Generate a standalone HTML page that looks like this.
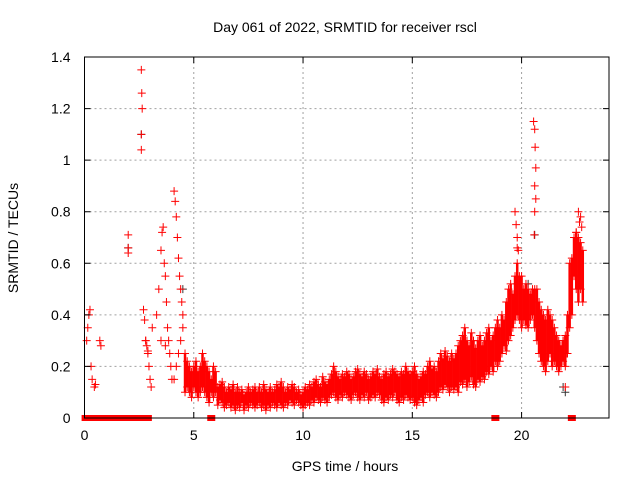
<!DOCTYPE html>
<html><head><meta charset="utf-8"><style>
body{margin:0;background:#fff}
svg{display:block;font-family:"Liberation Sans",sans-serif}
</style></head><body>
<svg id="chart" width="640" height="480" viewBox="0 0 640 480">
<rect width="640" height="480" fill="#fff"/>
<text x="345" y="32" font-size="14" text-anchor="middle">Day 061 of 2022, SRMTID for receiver rscl</text>
<text x="345" y="471" font-size="14" text-anchor="middle">GPS time / hours</text>
<text transform="translate(18,238) rotate(-90)" font-size="14" text-anchor="middle">SRMTID / TECUs</text>
<g id="grid"></g>
<g id="marks"></g>
<g id="axes"></g>
</svg>
<script>
const xTicks=[0,5,10,15,20];
const yTicks=[0,0.2,0.4,0.6,0.8,1,1.2,1.4];
const yTickLabels=["0","0.2","0.4","0.6","0.8","1","1.2","1.4"];
const bandT=[4.6,4.7,4.8,4.9,5.0,5.1,5.2,5.3,5.4,5.5,5.6,5.7,5.8,5.9,6.0,
6.1,6.2,6.3,6.4,6.5,6.6,6.7,6.8,6.9,7.0,7.1,7.2,7.3,7.4,7.5,7.6,7.7,7.8,7.9,8.0,8.1,8.2,8.3,8.4,8.5,8.6,8.7,8.8,8.9,9.0,9.1,9.2,9.3,9.4,9.5,9.6,9.7,9.8,9.9,
10.0,10.1,10.2,10.3,10.4,10.5,10.6,10.7,10.8,10.9,11.0,11.1,11.2,11.3,11.4,11.5,11.6,11.7,11.8,11.9,12.0,12.1,12.2,12.3,12.4,12.5,12.6,12.7,12.8,12.9,13.0,13.1,13.2,13.3,13.4,13.5,13.6,13.7,13.8,13.9,14.0,14.1,14.2,14.3,14.4,14.5,14.6,14.7,14.8,14.9,
15.0,15.1,15.2,15.3,15.4,15.5,15.6,15.7,15.8,15.9,16.0,16.1,16.2,16.3,16.4,16.5,16.6,16.7,16.8,16.9,
17.0,17.1,17.2,17.3,17.4,17.5,17.6,17.7,17.8,17.9,18.0,18.1,18.2,18.3,18.4,18.5,18.6,18.7,18.8,18.9,
19.0,19.1,19.2,19.3,19.4,19.5,19.6,19.7,19.8,19.9,20.0,20.1,20.2,20.3,20.4,20.5,
20.6,20.7,20.8,20.9,21.0,21.1,21.2,21.3,21.4,21.5,21.6,21.7,21.8,21.9,22.0,22.1,22.2,22.3,22.4,22.5,22.6,22.7,22.8];
const bandHi=[.25,.22,.2,.18,.2,.22,.18,.2,.25,.22,.2,.18,.15,.2,.18,
.12,.13,.14,.12,.1,.12,.11,.13,.1,.12,.1,.11,.09,.1,.12,.1,.11,.12,.1,.12,.1,.13,.11,.1,.12,.1,.11,.13,.12,.14,.12,.1,.12,.11,.13,.12,.1,.11,.09,
.1,.12,.11,.13,.12,.14,.15,.13,.12,.16,.14,.13,.15,.17,.2,.18,.16,.15,.17,.16,.18,.17,.15,.16,.18,.19,.17,.16,.18,.17,.15,.16,.18,.17,.19,.16,.15,.17,.18,.16,.17,.19,.18,.17,.16,.18,.17,.2,.18,.17,
.18,.2,.17,.15,.16,.18,.17,.2,.22,.19,.2,.18,.22,.25,.23,.26,.24,.22,.25,.23,
.25,.28,.3,.32,.35,.3,.28,.33,.3,.27,.3,.32,.28,.3,.33,.35,.3,.32,.35,.38,
.35,.4,.38,.45,.5,.52,.48,.55,.6,.55,.55,.5,.52,.5,.48,.5,
.5,.5,.45,.42,.4,.38,.42,.4,.38,.35,.32,.3,.28,.3,.32,.4,.6,.62,.7,.72,.7,.68,.65];
const bandLo=[.1,.12,.1,.08,.12,.1,.08,.1,.12,.1,.08,.06,.1,.08,.1,
.05,.07,.06,.04,.05,.06,.04,.05,.03,.05,.04,.06,.03,.05,.04,.06,.05,.04,.05,.06,.04,.05,.03,.05,.04,.06,.05,.04,.06,.05,.04,.06,.05,.07,.06,.05,.07,.06,.05,
.04,.05,.06,.05,.07,.06,.08,.07,.06,.08,.07,.06,.08,.09,.1,.08,.07,.09,.08,.1,.09,.08,.07,.09,.1,.08,.07,.09,.08,.1,.07,.08,.09,.08,.1,.09,.07,.06,.08,.07,.09,.08,.1,.07,.06,.08,.07,.09,.08,.07,
.08,.06,.05,.07,.08,.06,.09,.1,.08,.1,.09,.08,.1,.12,.11,.13,.12,.1,.12,.11,
.12,.1,.14,.13,.15,.12,.14,.16,.13,.12,.15,.14,.16,.15,.18,.17,.2,.18,.22,.2,
.22,.25,.28,.26,.3,.32,.35,.38,.4,.38,.35,.38,.36,.35,.38,.4,
.35,.3,.25,.22,.2,.18,.22,.25,.2,.22,.2,.18,.2,.22,.2,.25,.35,.4,.55,.5,.45,.5,.45];
const ptT=[0.1,0.15,0.2,0.25,0.3,0.35,0.45,0.5,0.7,0.75,2.0,2.0,2.0,2.6,2.62,2.64,2.6,2.6,
2.7,2.75,2.8,2.85,2.9,2.95,3.0,3.05,3.1,2.8,2.9,
3.3,3.4,3.5,3.55,3.6,3.65,3.7,3.75,3.8,3.85,3.9,3.95,4.0,3.5,3.7,
4.1,4.15,4.2,4.25,4.3,4.35,4.4,4.45,4.5,4.5,4.4,4.3,4.2,4.1,
19.7,19.75,19.8,19.85,19.8,20.55,20.6,20.62,20.65,20.6,20.65,20.6,20.58,21.9,22.0,22.05,22.5,22.6,22.7,22.65,22.75];
const ptV=[0.3,0.35,0.4,0.42,0.2,0.15,0.12,0.13,0.3,0.28,0.71,0.66,0.64,1.35,1.26,1.2,1.1,1.04,
0.42,0.38,0.3,0.28,0.25,0.2,0.15,0.12,0.35,0.3,0.26,
0.4,0.5,0.65,0.72,0.74,0.6,0.55,0.45,0.35,0.3,0.25,0.2,0.15,0.3,0.28,
0.88,0.84,0.78,0.7,0.62,0.55,0.5,0.45,0.4,0.35,0.3,0.25,0.2,0.15,
0.8,0.75,0.7,0.65,0.66,1.15,1.12,1.05,0.97,0.9,0.85,0.8,0.71,0.3,0.12,0.25,0.72,0.8,0.78,0.76,0.74];
const zeroT=[0.05,0.3,0.4,0.5,0.6,0.8,0.9,1.0,1.2,1.3,1.5,1.6,1.7,1.8,1.9,2.0,2.1,2.2,2.3,2.4,2.5,2.6,2.9,5.8,18.8,22.3];
const blackT=[2.0,2.6,4.5,19.8,20.6,22.0,21.9,20.3];
const blackV=[0.66,1.1,0.5,0.52,0.71,0.1,0.12,0.52];

const NS="http://www.w3.org/2000/svg";
const L=84.5,R=609,T=57,B=418;
const sx=t=>L+t*(R-L)/24;
const sy=v=>B-v*(B-T)/1.4;
function mk(tag,a,parent){const e=document.createElementNS(NS,tag);for(const k in a)e.setAttribute(k,a[k]);parent.appendChild(e);return e;}
const grid=document.getElementById('grid'),marks=document.getElementById('marks'),axes=document.getElementById('axes');
xTicks.forEach(t=>{if(t>0){const g=mk('line',{x1:sx(t),x2:sx(t),y1:T,y2:B,stroke:'#a0a0a0','stroke-dasharray':'2,3'},grid);

}
const tk=mk('path',{d:`M${sx(t)},${B}v-6M${sx(t)},${T}v6`,stroke:'#000'},axes);


const lb=mk('text',{x:sx(t),y:B+22,'font-size':14,'text-anchor':'middle'},axes);lb.textContent=t;

});
yTicks.forEach((v,i)=>{if(v>0&&v<1.4){const g=mk('line',{x1:L,x2:R,y1:sy(v),y2:sy(v),stroke:'#a0a0a0','stroke-dasharray':'2,3'},grid);

}
const tk=mk('path',{d:`M${L},${sy(v)}h6M${R},${sy(v)}h-6`,stroke:'#000'},axes);


const lb=mk('text',{x:L-14,y:sy(v)+5,'font-size':14,'text-anchor':'end'},axes);lb.textContent=yTickLabels[i];

});
function plus(t,v,c,name,w){const p=mk('path',{d:`M${sx(t)-4},${sy(v)}h8M${sx(t)},${sy(v)-4}v8`,stroke:c,'stroke-width':w||1},marks);

}
blackT.forEach((t,i)=>plus(t,blackV[i],'#333','black-point'));
bandT.forEach((t,i)=>{const l=mk('line',{x1:sx(t),x2:sx(t),y1:sy(bandHi[i]),y2:sy(bandLo[i]),stroke:'#f00','stroke-width':2.5},marks);


plus(t,bandHi[i],'#f00','red-point');plus(t,bandLo[i],'#f00','red-point');});
ptT.forEach((t,i)=>plus(t,ptV[i],'#f00','red-point'));
zeroT.forEach(t=>{const z=mk('rect',{x:sx(t)-4,y:sy(0)-3,width:8,height:6,fill:'#f00'},marks);

});
const fr=mk('rect',{x:L,y:T,width:R-L,height:B-T,fill:'none',stroke:'#000'},axes);


</script>
</body></html>
